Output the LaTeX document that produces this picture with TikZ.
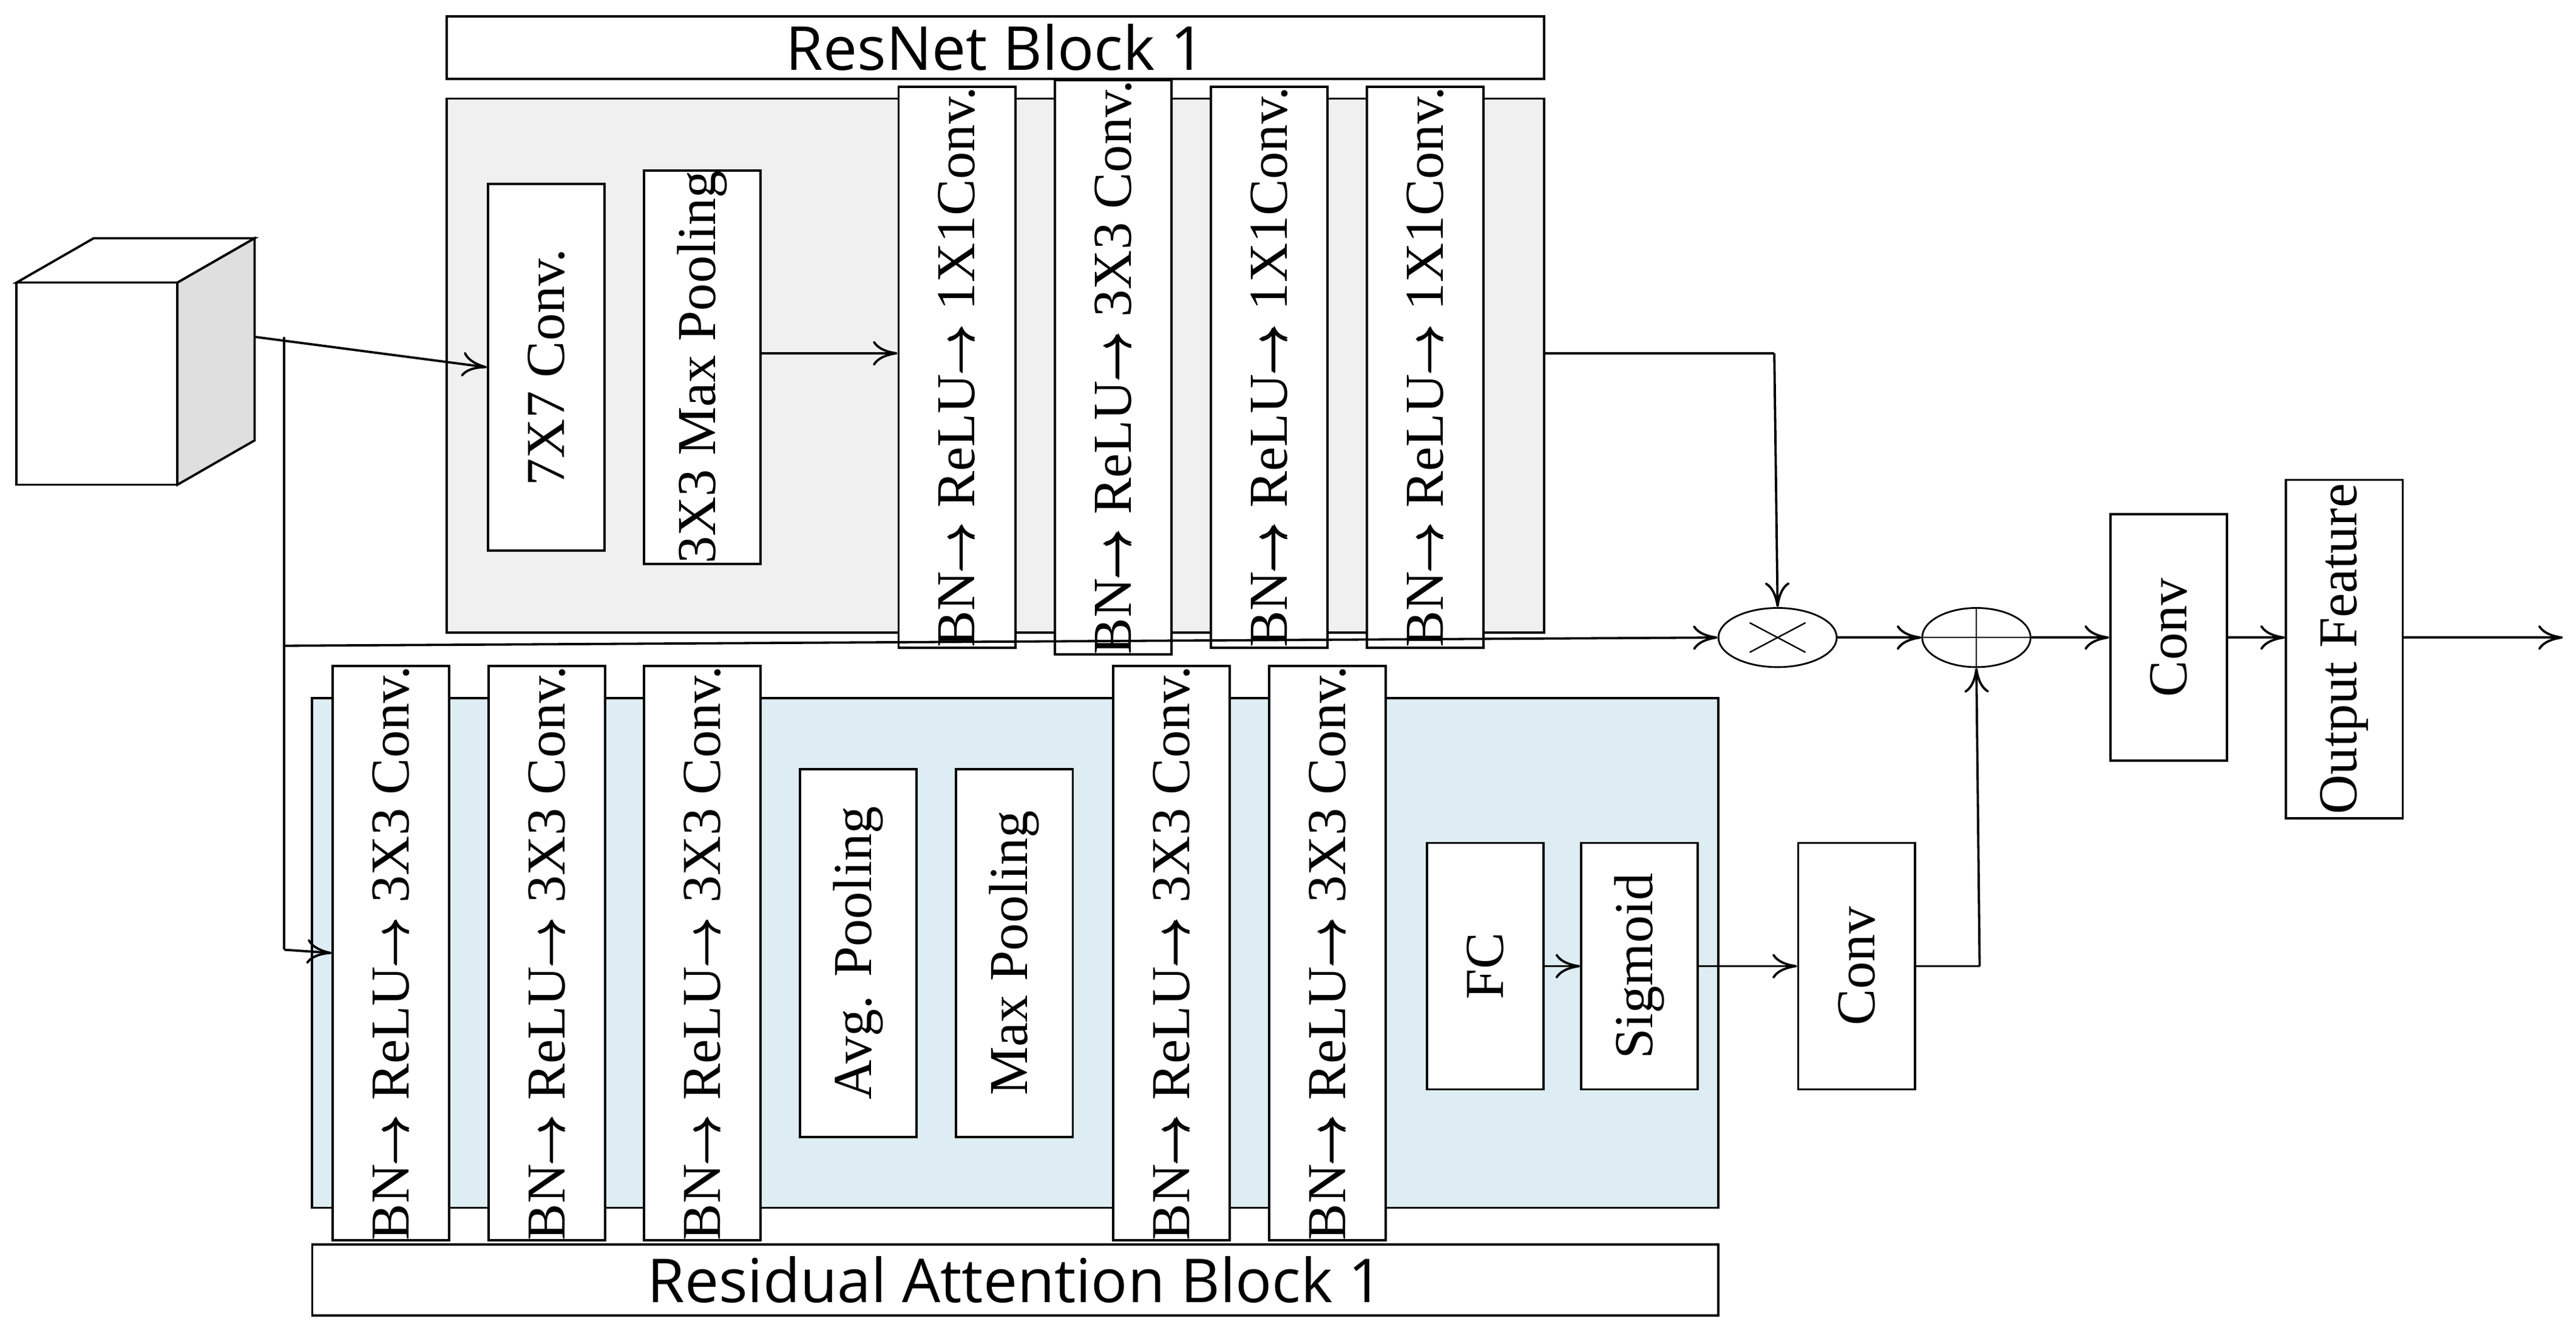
\documentclass[tikz,border=0pt]{standalone}
\usepackage{amsmath}
\usepackage{amssymb}
\usepackage{fontspec}
\setmainfont{Liberation Serif}
\newfontfamily\titlefont{Open Sans}
\usetikzlibrary{arrows.meta,positioning,shapes.geometric}
\definecolor{panelgray}{RGB}{240,240,240}
\definecolor{panelblue}{RGB}{221,237,243}
\newcommand{\ar}{$\pmb{\rightarrow}$}

\begin{document}
\begin{tikzpicture}[x=0.02cm,y=-0.02cm,
	blk/.style={draw, line width=0.8pt, fill=white, rotate=90, minimum height=1.42cm, inner sep=0pt, font=\fontsize{19}{19}\selectfont},
	ttl/.style={draw, line width=0.8pt, fill=white, font=\titlefont\fontsize{21}{21}\selectfont, inner sep=0pt},
	op/.style={draw, line width=0.6pt, ellipse, minimum width=#1, minimum height=0.72cm, inner sep=0pt},
	arr/.style={-{To[length=3mm,width=3mm]}, line width=0.8pt},
	ln/.style={line width=0.8pt}]
\useasboundingbox (0,0) rectangle (1568,816);
				% input cube
				\draw[ln, fill=white] (10,172) -- (57,145) -- (155,145) -- (108,172) -- cycle;
				\draw[ln, fill=gray!25] (108,172) -- (155,145) -- (155,268) -- (108,295) -- cycle;
				\draw[ln, fill=white] (10,172) rectangle (108,295);
				\coordinate (in) at (155,205);
				\coordinate (split) at (173,205);

				% resnet block
				\node[ttl, minimum width=13.36cm, minimum height=0.76cm] (rtitle) at (606,29) {ResNet Block 1};
				\filldraw[ln, fill=panelgray] (272,60) rectangle (940,385);
				\node[blk, minimum width=4.46cm] (c7) at (332.5,223.5) {7X7 Conv.};
				\node[blk, minimum width=4.46cm] (mp) at (427.5,223.5) {3X3 Max Pooling};
				\foreach \x/\k/\t in {582.5/r1/1X1Conv., 677.5/r2/3X3 Conv., 772.5/r3/1X1Conv., 867.5/r4/1X1Conv.}
					\node[blk, minimum width=5.86cm] (\k) at (\x,223.5) {BN\ar{} ReLU\ar{} \t};
				\coordinate (rout) at (940,215);

				% merge ops
				\node[op=1.44cm] (mul) at (1082,388) {};
				\draw[line width=0.5pt] ([shift={(-17,-9)}]mul.center) -- ([shift={(17,9)}]mul.center)
					([shift={(-17,9)}]mul.center) -- ([shift={(17,-9)}]mul.center);
				\node[op=1.32cm] (add) at (1203,388) {};
				\draw[line width=0.5pt] (add.north) -- (add.south) (add.west) -- (add.east);
				\node[blk, minimum width=3cm] (conv1) at (1320,388) {Conv};
				\node[blk, minimum width=4.12cm] (outf) at (1427,395) {Output Feature};
				\coordinate (out) at (1560,388);

				% attention block
				\filldraw[ln, fill=panelblue] (190,425) rectangle (1046,735);
				\foreach \x/\k in {238/a1, 333/a2, 427.5/a3, 713/a4, 808/a5}
					\node[blk, minimum width=5.88cm] (\k) at (\x,580) {BN\ar{} ReLU\ar{} 3X3 Conv.};
				\node[blk, minimum width=4.48cm] (avg) at (522.5,580) {Avg. Pooling};
				\node[blk, minimum width=4.48cm] (maxp) at (617.5,580) {Max Pooling};
				\node[blk, minimum width=3cm] (fc) at (904,588) {FC};
				\node[blk, minimum width=3cm] (sig) at (998,588) {Sigmoid};
				\node[blk, minimum width=3cm] (conv2) at (1130,588) {Conv};
				\node[ttl, minimum width=17.12cm, minimum height=0.86cm] (atitle) at (618,779) {Residual Attention Block 1};

				% connectors
				\draw[arr] (in) -- (c7.north);
				\draw[ln] (split) -- (173,578);
				\draw[arr] (173,578) -- (a1.north);
				\draw[arr] (173,393) -- (mul.west);
				\draw[arr] (mp.south |- 0,215) -- (r1.north |- 0,215);
				\draw[ln] (rout) -- (1080,215);
				\draw[arr] (1080,215) -- (mul.north);
				\draw[arr] (mul.east) -- (add.west);
				\draw[arr] (add.east) -- (conv1.north);
				\draw[arr] (conv1.south) -- (outf.north |- conv1.south);
				\draw[arr] (outf.south |- out) -- (out);
				\draw[arr] (fc.south) -- (sig.north);
				\draw[arr] (sig.south) -- (conv2.north);
				\draw[ln] (conv2.south) -- (1205,588);
				\draw[arr] (1205,588) -- (add.south);
\end{tikzpicture}
\end{document}
